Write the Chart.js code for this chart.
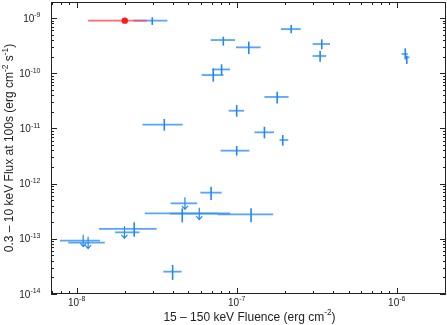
<!DOCTYPE html>
<html lang="en">
<head>
<meta charset="UTF-8">
<title>Fluence vs X-ray Flux</title>
<script src="https://cdn.jsdelivr.net/npm/chart.js"></script>
<style>
  html, body { margin: 0; padding: 0; background: #fff; }
  canvas { display: block; }
</style>
</head>
<body>
<canvas id="chart" width="447" height="325"></canvas>
<script>
// detected afterglows: fluence (erg cm^-2) and flux at 100 s (erg cm^-2 s^-1)
const detFluence   = [2.97e-8, 8.25e-8, 1.19e-7, 2.19e-7, 3.4e-7, 3.32e-7, 1.13e-6, 1.155e-6, 8.05e-8, 7.14e-8,
                      1.79e-7, 1.0e-7, 3.53e-8, 1.49e-7, 1.94e-7, 1.0e-7, 6.92e-8, 4.57e-8, 1.23e-7, 2.29e-8, 3.98e-8];
const detFluenceLo = [2.26e-8, 6.88e-8, 9.9e-8, 1.89e-7, 2.98e-7, 2.98e-7, 1.07e-6, 1.13e-6, 7.05e-8, 6.04e-8,
                      1.49e-7, 8.91e-8, 2.58e-8, 1.29e-7, 1.85e-7, 7.94e-8, 5.93e-8, 2.67e-8, 7.64e-8, 1.38e-8, 3.48e-8];
const detFluenceHi = [3.69e-8, 9.76e-8, 1.41e-7, 2.51e-7, 3.83e-7, 3.62e-7, 1.17e-6, 1.2e-6, 9.08e-8, 8.26e-8,
                      2.11e-7, 1.11e-7, 4.6e-8, 1.71e-7, 2.1e-7, 1.2e-7, 8.06e-8, 9.08e-8, 1.69e-7, 3.16e-8, 4.53e-8];
const detFlux      = [8.95e-10, 3.99e-10, 2.94e-10, 6.3e-10, 3.38e-10, 2.05e-10, 2.23e-10, 1.94e-10, 1.17e-10, 9.27e-11,
                      3.71e-11, 2.09e-11, 1.17e-11, 8.49e-12, 6.16e-12, 3.95e-12, 6.86e-13, 2.89e-13, 2.77e-13, 1.51e-13, 2.54e-14];
const detFluxLo    = [7.5e-10, 3.16e-10, 2.23e-10, 5.27e-10, 2.71e-10, 1.62e-10, 1.78e-10, 1.47e-10, 9.27e-11, 7.03e-11,
                      2.84e-11, 1.63e-11, 9.1e-12, 6.6e-12, 4.86e-12, 3.21e-12, 5.05e-13, 1.99e-13, 1.99e-13, 1.09e-13, 1.8e-14];
const detFluxHi    = [1.03e-9, 4.59e-10, 3.73e-10, 7.47e-10, 4.11e-10, 2.56e-10, 2.82e-10, 2.08e-10, 1.45e-10, 1.22e-10,
                      4.62e-11, 2.65e-11, 1.48e-11, 1.07e-11, 7.58e-12, 4.8e-12, 8.79e-13, 3.56e-13, 3.56e-13, 1.99e-13, 3.35e-14];

// upper limits on the flux
const ulFluence    = [4.75e-8, 5.84e-8, 1.99e-8, 1.1e-8, 1.18e-8];
const ulFluenceLo  = [3.87e-8, 3.83e-8, 1.74e-8, 7.87e-9, 8.87e-9];
const ulFluenceHi  = [5.67e-8, 7.64e-8, 2.47e-8, 1.4e-8, 1.5e-8];
const ulFlux       = [4.39e-13, 2.85e-13, 1.31e-13, 9.25e-14, 8.5e-14];

// highlighted burst
const hiFluence    = [2.0e-8];
const hiFluenceLo  = [1.18e-8];
const hiFluenceHi  = [2.74e-8];
const hiFlux       = [8.95e-10];

const xDecades = [-8, -7, -6];
const yDecades = [-14, -13, -12, -11, -10, -9];
const xTitle = [{ t: '15 \u2013 150 keV Fluence (erg cm' }, { t: '-2', sup: true }, { t: ')' }];
const yTitle = [{ t: '0.3 \u2013 10 keV Flux at 100s (erg cm' }, { t: '-2', sup: true }, { t: ' s' }, { t: '-1', sup: true }, { t: ')' }];

const FONT = '"Liberation Sans", Arial, Helvetica, sans-serif';
const BLUE = '#1f88f6';
const BLUE_H = 'rgba(40, 140, 248, 0.78)';
const RED = 'rgba(255, 70, 70, 0.8)';

function points(xs, lo, hi, ys, ylo, yhi) {
  return xs.map((v, i) => ({
    x: v, y: ys[i], xMin: lo[i], xMax: hi[i],
    yMin: ylo ? ylo[i] : null, yMax: yhi ? yhi[i] : null
  }));
}

function drawRich(ctx, parts, x, y, size, align) {
  let w = 0;
  parts.forEach(p => {
    ctx.font = (p.sup ? size * 0.7 : size) + 'px ' + FONT;
    p.w = ctx.measureText(p.t).width;
    w += p.w;
  });
  let cx = align === 'center' ? x - w / 2 : align === 'right' ? x - w : x;
  parts.forEach(p => {
    ctx.font = (p.sup ? size * 0.7 : size) + 'px ' + FONT;
    ctx.fillText(p.t, cx, p.sup ? y - size * 0.42 : y);
    cx += p.w;
  });
}

function logTicks(scale) {
  const out = [];
  for (let e = -15; e <= -5; e++) {
    for (let m = 1; m <= 9; m++) {
      const v = m * Math.pow(10, e);
      if (v >= scale.min * 0.9999 && v <= scale.max * 1.0001) out.push({ v: v, major: m === 1 });
    }
  }
  return out;
}

const errorBars = {
  id: 'errorBars',
  beforeDatasetsDraw(chart) {
    const { ctx, scales: { x, y } } = chart;
    ctx.save();
    chart.data.datasets.forEach(ds => {
      ds.data.forEach(p => {
        const px = x.getPixelForValue(p.x);
        const py = y.getPixelForValue(p.y);
        ctx.lineWidth = 1.8;
        ctx.strokeStyle = ds.hColor;
        ctx.beginPath();
        ctx.moveTo(x.getPixelForValue(p.xMin), py);
        ctx.lineTo(x.getPixelForValue(p.xMax), py);
        ctx.stroke();
        ctx.strokeStyle = ds.vColor;
        if (ds.upperLimit) {
          ctx.lineWidth = 1.2;
          ctx.beginPath();
          ctx.moveTo(px, py - 6);
          ctx.lineTo(px, py + 6);
          ctx.moveTo(px - 3, py + 2.5);
          ctx.lineTo(px, py + 6);
          ctx.lineTo(px + 3, py + 2.5);
          ctx.stroke();
        } else if (p.yMin !== null) {
          ctx.lineWidth = 1.6;
          ctx.beginPath();
          ctx.moveTo(px, y.getPixelForValue(p.yMax));
          ctx.lineTo(px, y.getPixelForValue(p.yMin));
          ctx.stroke();
        }
      });
    });
    ctx.restore();
  }
};

const frame = {
  id: 'frame',
  afterDraw(chart) {
    const { ctx, chartArea: a, scales: { x, y } } = chart;
    ctx.save();
    ctx.strokeStyle = '#222';
    ctx.fillStyle = '#222';
    ctx.lineWidth = 1;
    ctx.strokeRect(a.left + 0.5, a.top + 0.5, a.right - a.left - 1, a.bottom - a.top - 1);

    ctx.beginPath();
    logTicks(x).forEach(t => {
      const px = Math.round(x.getPixelForValue(t.v)) + 0.5;
      const len = t.major ? 6 : 3;
      ctx.moveTo(px, a.bottom); ctx.lineTo(px, a.bottom - len);
      ctx.moveTo(px, a.top); ctx.lineTo(px, a.top + len);
    });
    logTicks(y).forEach(t => {
      const py = Math.round(y.getPixelForValue(t.v)) + 0.5;
      const len = t.major ? 6 : 3;
      ctx.moveTo(a.left, py); ctx.lineTo(a.left + len, py);
      ctx.moveTo(a.right, py); ctx.lineTo(a.right - len, py);
    });
    ctx.stroke();

    ctx.textBaseline = 'alphabetic';
    ctx.textAlign = 'left';
    xDecades.forEach(e => {
      drawRich(ctx, [{ t: '10' }, { t: String(e), sup: true }], x.getPixelForValue(Math.pow(10, e)), a.bottom + 11.5, 10, 'center');
    });
    yDecades.forEach(e => {
      drawRich(ctx, [{ t: '10' }, { t: String(e), sup: true }], 40.5, y.getPixelForValue(Math.pow(10, e)) + 3.6, 10, 'right');
    });

    drawRich(ctx, xTitle, (a.left + a.right) / 2 + 1, 320.5, 12, 'center');
    ctx.translate(13, (a.top + a.bottom) / 2);
    ctx.rotate(-Math.PI / 2);
    drawRich(ctx, yTitle, 0, 0, 12, 'center');
    ctx.restore();
  }
};

const hidden = {
  grid: { display: false, drawTicks: false },
  border: { display: false },
  ticks: { display: false },
  afterFit(s) { s.width = s.isHorizontal() ? s.width : 0; s.height = s.isHorizontal() ? 0 : s.height; }
};

new Chart(document.getElementById('chart'), {
  type: 'scatter',
  data: {
    datasets: [
      { label: 'Upper limits', data: points(ulFluence, ulFluenceLo, ulFluenceHi, ulFlux),
        upperLimit: true, hColor: BLUE_H, vColor: BLUE, pointRadius: 0 },
      { label: 'Detections', data: points(detFluence, detFluenceLo, detFluenceHi, detFlux, detFluxLo, detFluxHi),
        hColor: BLUE_H, vColor: BLUE, pointRadius: 0 },
      { label: 'Highlighted', data: points(hiFluence, hiFluenceLo, hiFluenceHi, hiFlux),
        hColor: RED, vColor: RED, pointRadius: 3.2, pointStyle: 'circle',
        backgroundColor: '#ff1a1a', borderColor: '#ff1a1a', borderWidth: 0 }
    ]
  },
  options: {
    responsive: false,
    animation: false,
    layout: { autoPadding: false, padding: { left: 51, right: 1, top: 2, bottom: 31 } },
    plugins: { legend: { display: false }, tooltip: { enabled: false } },
    scales: {
      x: Object.assign({ type: 'logarithmic', min: 6.92e-9, max: 2.03e-6 }, hidden),
      y: Object.assign({ type: 'logarithmic', min: 1e-14, max: 1.95e-9 }, hidden)
    }
  },
  plugins: [errorBars, frame]
});
</script>
</body>
</html>
